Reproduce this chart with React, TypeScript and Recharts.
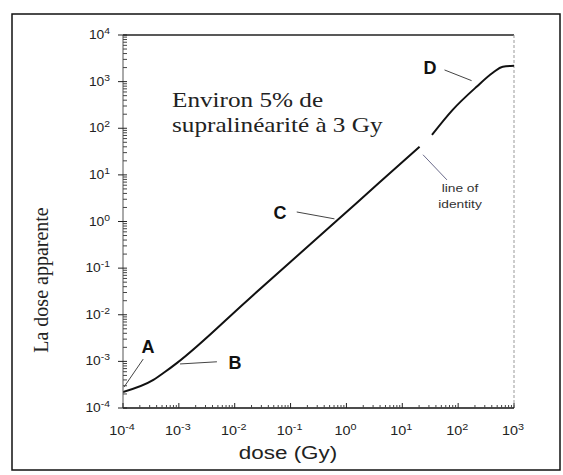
import React from 'react';
import { LineChart, Line, XAxis, YAxis, ReferenceLine } from 'recharts';

// curve (dose in Gy -> apparent dose), gap at the "line of identity" mark
const doses = [1e-4, 3.5e-4, 5.6e-4, 9.3e-4, 0.0174, 0.676, 3.98, 20.4, 27, 34, 79, 214, 417, 630, 1000];
const apparent = [2.2e-4, 4e-4, 5.9e-4, 9.3e-4, 0.0211, 1.05, 7.0, 40, null, 72, 245, 776, 1550, 2090, 2190];

const xMajor = [1e-4, 1e-3, 1e-2, 1e-1, 1, 10, 100, 1000];
const yMajor = [1e-4, 1e-3, 1e-2, 1e-1, 1, 10, 100, 1000, 10000];
const minorSteps = [2, 3, 4, 5, 6, 7, 8, 9];

// leader lines for the annotations [x1, y1, x2, y2] in data units
const leaders: [number, number, number, number][] = [
  [1.04e-4, 2.8e-4, 2.3e-4, 1.12e-3], // A
  [1.05e-3, 8.8e-4, 4.8e-3, 9.8e-4], // B
  [0.129, 1.6, 0.61, 1.14], // C
  [57, 1780, 174, 1050], // D
  [23.5, 27, 63, 7.8], // line of identity
];

const withMinor = (major: number[]) => {
  const out: number[] = [];
  major.forEach((m, i) => {
    out.push(m);
    if (i < major.length - 1) minorSteps.forEach((s) => out.push(m * s));
  });
  return out;
};

const data = doses.map((d, i) => ({ dose: d, app: apparent[i] }));

const isMajor = (v: number) => Math.abs(Math.log10(v) - Math.round(Math.log10(v))) < 1e-6;

const Pow = ({ v }: { v: number }) => (
  <>
    <tspan>10</tspan>
    <tspan dy={-5} fontSize={9}>{Math.round(Math.log10(v))}</tspan>
  </>
);

const YTick = (props: any) => {
  const { x, y, payload } = props;
  const v = payload.value;
  if (!isMajor(v)) return <line x1={x} x2={x + 4} y1={y} y2={y} stroke="#444" strokeWidth={1} />;
  return (
    <g>
      <line x1={x - 5} x2={x + 4} y1={y} y2={y} stroke="#222" strokeWidth={1} />
      <text
        transform={`translate(${x - 13},${y + 4}) scale(1.15,1)`}
        textAnchor="end"
        fontFamily="Liberation Sans, Arial"
        fontSize={12}
        fill="#222"
      >
        <Pow v={v} />
      </text>
    </g>
  );
};

const XTick = (props: any) => {
  const { x, y, payload } = props;
  const v = payload.value;
  if (!isMajor(v)) return <line x1={x} x2={x} y1={y} y2={y - 3} stroke="#444" strokeWidth={1} />;
  return (
    <g>
      <line x1={x} x2={x} y1={y} y2={y - 5} stroke="#222" strokeWidth={1} />
      <text
        transform={`translate(${x - 1},${y + 27}) scale(1.2,1)`}
        textAnchor="middle"
        fontFamily="Liberation Sans, Arial"
        fontSize={12}
        fill="#222"
      >
        <Pow v={v} />
      </text>
    </g>
  );
};

export default function App() {
  return (
    <div style={{ position: 'absolute', left: 0, top: 0, width: 563, height: 475, background: '#fff' }}>
      <LineChart
        width={563}
        height={475}
        data={data}
        margin={{ top: 35, right: 49, bottom: 27, left: 43 }}
      >
        <XAxis
          dataKey="dose"
          type="number"
          scale="log"
          domain={[1e-4, 1e3]}
          ticks={withMinor(xMajor)}
          interval={0}
          tickSize={0}
          tickMargin={0}
          tickLine={false}
          tick={<XTick />}
          height={40}
          axisLine={{ stroke: '#111', strokeWidth: 1.5 }}
          allowDataOverflow
        />
        <YAxis
          type="number"
          scale="log"
          domain={[1e-4, 1e4]}
          ticks={withMinor(yMajor)}
          interval={0}
          tickSize={0}
          tickMargin={0}
          tickLine={false}
          tick={<YTick />}
          width={80}
          axisLine={{ stroke: '#555', strokeWidth: 1 }}
          allowDataOverflow
        />
        <ReferenceLine y={1e4} stroke="#222" strokeWidth={1.5} />
        <ReferenceLine x={1e3} stroke="#999" strokeWidth={1} strokeDasharray="3 2" />
        {leaders.map((l, i) => (
          <ReferenceLine
            key={i}
            segment={[
              { x: l[0], y: l[1] },
              { x: l[2], y: l[3] },
            ]}
            stroke={i === 4 ? '#6a6a8a' : '#444'}
            strokeWidth={1}
          />
        ))}
        <Line
          dataKey="app"
          type="monotone"
          stroke="#111"
          strokeWidth={2}
          dot={false}
          connectNulls={false}
          isAnimationActive={false}
        />
      </LineChart>
      <svg
        width={563}
        height={475}
        style={{ position: 'absolute', left: 0, top: 0, pointerEvents: 'none' }}
      >
        <rect x={12} y={14} width={548} height={456} fill="none" stroke="#111" strokeWidth={1.5} />
        <text
          transform="translate(172,0) scale(1.2,1)"
          fontFamily="Liberation Serif, Times New Roman"
          fontSize={21}
          fill="#222"
        >
          <tspan x={0} y={107}>Environ 5% de</tspan>
          <tspan x={0} y={132}>supralinéarité  à 3 Gy</tspan>
        </text>
        <text
          transform="translate(48,280) rotate(-90)"
          textAnchor="middle"
          fontFamily="Liberation Serif, Times New Roman"
          fontSize={20}
          fill="#222"
        >
          La dose apparente
        </text>
        <text
          transform="translate(288,459) scale(1.18,1)"
          textAnchor="middle"
          fontFamily="Liberation Sans, Arial"
          fontSize={19}
          fill="#222"
        >
          dose (Gy)
        </text>
        <g fontFamily="Liberation Sans, Arial" fontWeight="bold" fontSize={18} fill="#111" textAnchor="middle">
          <text x={148} y={353}>A</text>
          <text x={235} y={369}>B</text>
          <text x={280} y={219}>C</text>
          <text x={430} y={74}>D</text>
        </g>
        <text
          transform="translate(460,0) scale(1.25,1)"
          fontFamily="Liberation Sans, Arial"
          fontSize={11}
          fill="#333"
          textAnchor="middle"
        >
          <tspan x={0} y={192}>line of</tspan>
          <tspan x={0} y={208}>identity</tspan>
        </text>
      </svg>
    </div>
  );
}
